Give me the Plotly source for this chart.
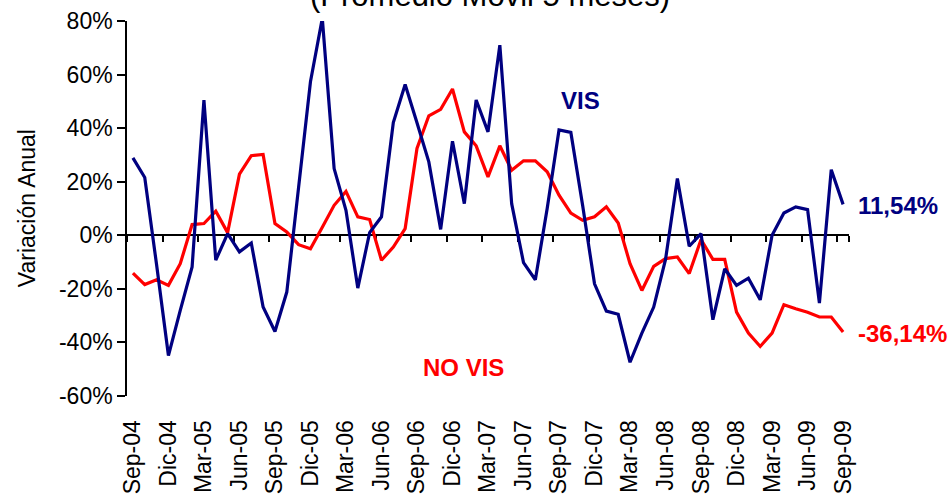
import plotly.graph_objects as go

# Month categories Sep-04 .. Sep-09 (61 months)
month_abbr = ["Ene", "Feb", "Mar", "Abr", "May", "Jun", "Jul", "Ago", "Sep", "Oct", "Nov", "Dic"]
months = []
y, m = 2004, 8
for _ in range(61):
    months.append(f"{month_abbr[m]}-{str(y)[2:]}")
    m += 1
    if m == 12:
        m = 0
        y += 1

tick_labels = months[::3]

vis = [28.9, 21.6, -11.0, -44.9, -28.0, -11.8, 50.5, -9.3, 0.6, -6.2,
       -2.9, -26.8, -35.9, -21.2, 18.0, 57.3, 81.0, 24.9, 9.3, -19.7,
       1.0, 6.9, 42.1, 56.3, 42.0, 27.4, 2.2, 35.1, 11.8, 50.5,
       38.6, 71.0, 11.8, -10.2, -16.6, 10.0, 39.3, 38.4, 11.0, -18.1,
       -28.3, -29.5, -47.4, -36.5, -26.8, -9.0, 21.2, -4.1, 0.6, -31.5,
       -12.5, -18.7, -16.0, -24.1, 0.0, 8.3, 10.6, 9.6, -25.3, 24.5,
       11.54]

no_vis = [-14.1, -18.4, -16.6, -18.7, -10.6, 4.0, 4.4, 9.0, 1.0, 22.8,
          29.7, 30.2, 4.4, 1.2, -3.5, -5.0, 3.0, 11.2, 16.4, 6.9,
          5.9, -9.3, -4.4, 2.5, 32.4, 44.6, 47.0, 54.6, 38.6, 33.4,
          21.8, 33.4, 24.3, 27.8, 27.8, 23.7, 15.0, 8.3, 5.6, 6.9,
          10.6, 4.6, -10.6, -20.6, -11.6, -8.7, -8.1, -14.3, -1.6, -9.0,
          -9.0, -28.7, -36.5, -41.5, -36.5, -25.9, -27.4, -28.7, -30.5, -30.5,
          -36.14]

y_ticks = [-60, -40, -20, 0, 20, 40, 60, 80]
y_tick_text = [f"{v}%" for v in y_ticks]

NAVY = "#000080"
RED = "#FF0000"
FONT = "Liberation Sans, Arial, sans-serif"

fig = go.Figure()
fig.add_trace(go.Scatter(x=months, y=no_vis, mode="lines", name="NO VIS",
                         line=dict(color=RED, width=3.2), xaxis="x", yaxis="y"))
fig.add_trace(go.Scatter(x=months, y=vis, mode="lines", name="VIS",
                         line=dict(color=NAVY, width=3.2), xaxis="x2", yaxis="y"))

ymin, ymax = -60, 80
zero_pos = (0 - ymin) / (ymax - ymin)

fig.update_layout(
    width=952, height=495, autosize=False,
    margin=dict(l=127, r=103, t=21, b=99, autoexpand=False),
    paper_bgcolor="white", plot_bgcolor="white",
    showlegend=False,
    font=dict(family=FONT, color="black", size=22),
    xaxis=dict(type="category", categoryorder="array", categoryarray=months,
               range=[-0.5, 60.5], showgrid=False, zeroline=False, showline=False,
               automargin=False,
               tickmode="array", tickvals=tick_labels, ticktext=tick_labels,
               tickangle=-90, ticks="outside", ticklen=14, tickcolor="rgba(0,0,0,0)",
               tickfont=dict(size=23, family=FONT, color="black")),
    xaxis2=dict(type="category", categoryorder="array", categoryarray=months,
                overlaying="x", anchor="free", position=zero_pos,
                range=[-0.5, 60.5], showgrid=False, zeroline=False,
                showline=True, linecolor="black", linewidth=1.5,
                automargin=False,
                tickmode="array", tickvals=tick_labels, ticks="outside",
                tickson="boundaries", ticklen=6, tickcolor="black", tickwidth=1.5,
                showticklabels=False, layer="below traces"),
    yaxis=dict(range=[ymin, ymax], showgrid=False, zeroline=False,
               showline=True, linecolor="black", linewidth=1.5,
               automargin=False,
               tickmode="array", tickvals=y_ticks, ticktext=y_tick_text,
               ticks="outside", ticklen=8, tickcolor="black", tickwidth=1.5,
               tickfont=dict(size=23, family=FONT, color="black")),
)

annotations = [
    dict(text="(Promedio Movil 5 meses)", xref="paper", yref="paper",
         x=0.5034, y=1.0, yanchor="bottom", xanchor="center", yshift=6,
         showarrow=False, font=dict(size=31, family=FONT, color="black")),
    dict(text="Variación Anual", xref="paper", yref="paper", textangle=-90,
         x=-0.139, y=0.5, xanchor="center", yanchor="middle", showarrow=False,
         font=dict(size=23, family=FONT, color="black")),
    dict(text="<b>VIS</b>", xref="paper", yref="paper", x=0.6276, y=0.7867,
         xanchor="center", yanchor="middle", showarrow=False,
         font=dict(size=24, family=FONT, color=NAVY)),
    dict(text="<b>NO VIS</b>", xref="paper", yref="paper", x=0.4662, y=0.0773,
         xanchor="center", yanchor="middle", showarrow=False,
         font=dict(size=24, family=FONT, color=RED)),
    dict(text="<b>11,54%</b>", xref="paper", yref="paper", x=1.0097, y=0.5067,
         xanchor="left", yanchor="middle", showarrow=False,
         font=dict(size=24, family=FONT, color=NAVY)),
    dict(text="<b>-36,14%</b>", xref="paper", yref="paper", x=1.0097, y=0.168,
         xanchor="left", yanchor="middle", showarrow=False,
         font=dict(size=24, family=FONT, color=RED)),
]
fig.update_layout(annotations=annotations)

fig.write_html("out.html",
               config={"displayModeBar": False},
               post_script="document.body.style.margin='0px';document.body.style.overflow='hidden';")
